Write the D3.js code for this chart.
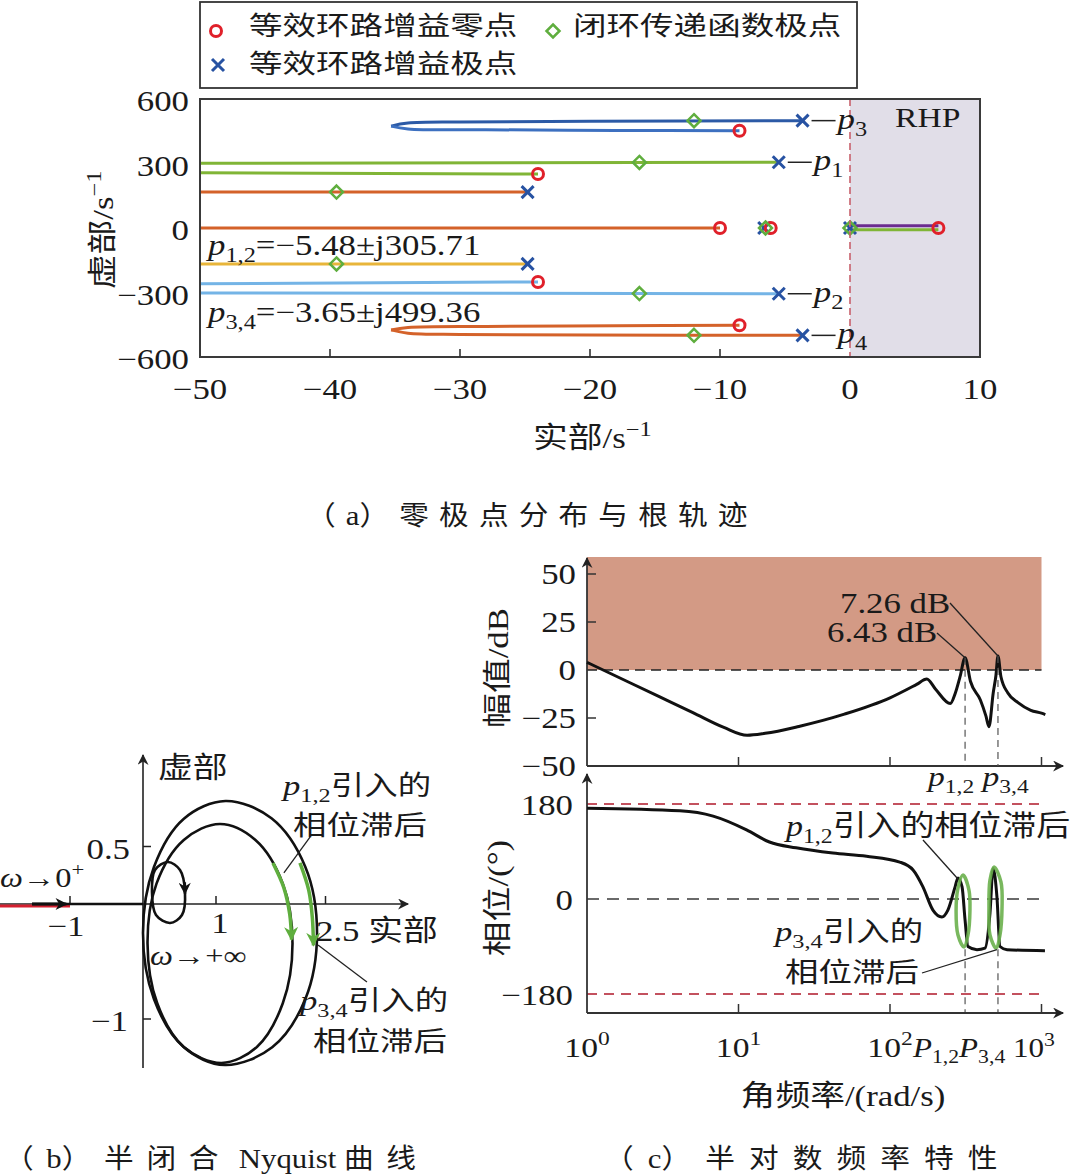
<!DOCTYPE html>
<html><head><meta charset="utf-8">
<script src="https://cdn.jsdelivr.net/npm/d3@7"></script>
<style>body{margin:0;background:#fff}</style>
</head><body>
<svg id="c" width="1070" height="1176"></svg>
<script>
// ================= DATA =================
// (a) root locus
const legendLabels = ['等效环路增益零点', '等效环路增益极点', '闭环传递函数极点'];
const reTicks = [-50, -40, -30, -20, -10, 0, 10];
const imTicks = [-600, -300, 0, 300, 600];
const locusP3 = [[-3.65,499.36],[-20,496],[-30,493],[-34,488],[-35.3,474]];
const locusZ3 = [[-35.3,474],[-34,461],[-28,457],[-18,454],[-8.5,452]];
const locusP1 = [[-5.48,305.71],[-52,301]];
const locusZ1 = [[-24,251],[-52,257]];
const locusA1 = [[-24.8,167],[-52,167]];
const locusReal = [[-10,0],[-52,0]];
const locusRhpA = [[0,10],[6.8,10]];
const locusRhpB = [[0,-8],[6.8,-8]];
const locusA2 = [[-24.8,-167],[-52,-167]];
const locusZ2 = [[-24,-251],[-52,-260]];
const locusP2 = [[-5.48,-305.71],[-52,-302]];
const locusZ4 = [[-8.5,-452],[-18,-455],[-28,-458],[-34,-463],[-35.3,-474]];
const locusP4 = [[-35.3,-474],[-34,-489],[-30,-495],[-20,-498],[-3.65,-499.36]];
const zerosA = [[-8.5,452],[-24,251],[-10,0],[-6.1,0],[6.8,0],[-24,-251],[-8.5,-452]];
const olPolesA = [[-3.65,499.36],[-5.48,305.71],[-24.8,167],[-6.6,0],[0,0],[-24.8,-167],[-5.48,-305.71],[-3.65,-499.36]];
const clPolesA = [[-12,499],[-16.2,305],[-39.5,167],[-6.5,0],[0,0],[-39.5,-167],[-16.2,-305],[-12,-499]];
const poleTags = [['3',-3.65,499.36],['1',-5.48,305.71],['2',-5.48,-305.71],['4',-3.65,-499.36]];
const poleText12 = '=−5.48±j305.71';
const poleText34 = '=−3.65±j499.36';

// (b) Nyquist (re / im)
const nyqReTicks = [-1, 1, 2.5];
const nyqImTicks = [0.5, -1];
const nyqOuter = [[2.384,-0.252],[2.224,0.322],[1.760,0.745],[1.130,0.896],[0.560,0.742],[0.150,0.322],[0,-0.252],[0.150,-0.826],[0.560,-1.246],[1.120,-1.400],[1.770,-1.246],[2.224,-0.826]];
const nyqInner = [[2.048,-0.343],[1.915,0.177],[1.540,0.557],[1.055,0.696],[0.559,0.557],[0.185,0.177],[0.062,-0.343],[0.195,-0.863],[0.559,-1.243],[1.075,-1.382],[1.560,-1.243],[1.915,-0.863]];
const nyqSmall = [[0.575,0.104],[0.507,0.296],[0.342,0.365],[0.164,0.296],[0.123,0.104],[0.178,-0.096],[0.370,-0.165],[0.534,-0.096]];
const nyqLowFreq = [[-1.52,0],[0,0]];
const nyqCritical = [[-1.96,0],[-1,0]];
const nyqGreen12 = [[1.78,0.357],[1.93,0.14],[2.01,-0.09],[2.035,-0.31]];
const nyqGreen34 = [[2.15,0.357],[2.27,0.12],[2.32,-0.12],[2.335,-0.36]];

// (c) Bode
const decades = [0, 1, 2, 3];
const magTicks = [-50, -25, 0, 25, 50];
const phTicks = [-180, 0, 180];
const magW  = [1, 2, 3, 5, 8, 11.4, 15, 25, 50, 100, 150, 175, 200, 250, 270, 290, 313, 340, 395, 430, 450, 480, 500, 516, 540, 600, 700, 850, 1000, 1060];
const magDB = [4, -7.3, -13.9, -22.2, -29.9, -34, -33, -29.4, -23, -14.5, -7.5, -4.7, -10, -17.5, -12, -3.5, 6.43, -6, -15.6, -24, -29.5, -12, -3, 7.26, -3.5, -12, -17, -21, -22.5, -23.2];
const phW   = [1, 4.1, 6.8, 11.3, 16, 24, 42, 70, 116, 142, 165, 192, 220, 241, 269, 281, 299, 313, 327, 375, 424, 457, 479, 508, 532, 592, 1054];
const phDeg = [172, 167, 157, 131, 108, 97, 87, 81, 70, 55, 23, -21, -34, -21, 23, 40, 23, -40, -90, -96, -93, -27, 58, 4, -90, -96, -98];
const loop12 = [[303,45.5],[332,17],[337,-22.7],[327,-68.2],[308,-91],[281,-68.2],[273,-22.7],[281,20.8]];
const loop34 = [[486,60.6],[540,32.2],[549,-15.2],[532,-68.2],[501,-92.8],[457,-68.2],[450,-15.2],[457,36]];
const peakW = [313, 516];
const peakDB = [6.43, 7.26];
const peakLabels = ['6.43 dB', '7.26 dB'];

// ================= HELPERS =================
const SERIF = "'Liberation Serif','Times New Roman',serif";
const CJK = "'Noto Sans CJK SC','Noto Sans CJK JP',sans-serif";
const SX = 1.2;
const svg = d3.select('#c');
svg.append('rect').attr('width', 1070).attr('height', 1176).attr('fill', '#fff');
const defs = svg.append('defs');

// segs: [text, kind] ; kind 'r' roman, 'i' italic, 'c' CJK, 'sub', 'sup', 'br' (new line: [_, 'br', dxPx, dyPx])
function txt(g, x, y, segs, o = {}) {
  const sx = o.sx ?? SX;
  let tr = `translate(${x},${y})`;
  if (o.rot) tr += ` rotate(${o.rot})`;
  tr += ` scale(${sx},1)`;
  const t = g.append('text').attr('transform', tr)
    .attr('text-anchor', o.anchor || 'start').attr('fill', o.fill || '#1a1a1a');
  const S = o.s || 28, C = o.c || 28;
  let cur = 0, brPending = null;
  segs.forEach(seg => {
    const [s, k] = seg;
    if (k === 'br') { brPending = [seg[2], seg[3]]; return; }
    const ts = t.append('tspan').text(s);
    let fam = SERIF, fs = S, it = false, sh = 0;
    if (k === 'c') { fam = CJK; fs = C; if (o.ls) ts.attr('letter-spacing', o.ls); }
    if (k === 'i') it = true;
    if (k === 'sub') { fs = S * 0.7; sh = S * 0.24; }
    if (k === 'sup') { fs = S * 0.7; sh = -S * 0.42; }
    ts.attr('font-family', fam).attr('font-size', fs);
    if (it) ts.attr('font-style', 'italic');
    let dy = sh - cur;
    if (brPending) { ts.attr('x', brPending[0] / sx); dy += brPending[1]; brPending = null; }
    if (dy) ts.attr('dy', dy);
    cur = sh;
  });
  return t;
}
function marker(id, color, w, h) {
  defs.append('marker').attr('id', id).attr('viewBox', '0 0 10 10')
    .attr('refX', 9).attr('refY', 5).attr('markerWidth', w).attr('markerHeight', h)
    .attr('markerUnits', 'userSpaceOnUse').attr('orient', 'auto')
    .append('path').attr('d', 'M0,0L10,5L0,10L3,5Z').attr('fill', color);
}
marker('arrK', '#222', 16, 11);
marker('arrKs', '#111', 14, 12);
marker('arrG', '#5fae3e', 14, 14);

const RED = '#e0202a', BLUE = '#2752a2', GRN = '#5fae3e';
function drawCircle(g, x, y) { g.append('circle').attr('cx', x).attr('cy', y).attr('r', 5.5).attr('fill', 'none').attr('stroke', RED).attr('stroke-width', 3); }
function drawX(g, x, y) { g.append('path').attr('d', `M${x-6},${y-6}L${x+6},${y+6}M${x-6},${y+6}L${x+6},${y-6}`).attr('stroke', BLUE).attr('stroke-width', 3); }
function drawDia(g, x, y) { g.append('path').attr('d', `M${x},${y-6.5}L${x+6.5},${y}L${x},${y+6.5}L${x-6.5},${y}Z`).attr('fill', 'none').attr('stroke', GRN).attr('stroke-width', 2.5); }

// ================= (a) =================
const gA = svg.append('g');
const xA = d3.scaleLinear().domain([-50, 10]).range([200, 980]);
const yA = d3.scaleLinear().domain([-600, 600]).range([357, 99]);
defs.append('clipPath').attr('id', 'clipA').append('rect')
  .attr('x', xA(-50)).attr('y', yA(600)).attr('width', xA(10) - xA(-50)).attr('height', yA(-600) - yA(600));

// legend
const lg = gA.append('g');
lg.append('rect').attr('x', 200).attr('y', 2).attr('width', 657).attr('height', 86)
  .attr('fill', '#fff').attr('stroke', '#333').attr('stroke-width', 1.8);
drawCircle(lg, 216, 31); drawX(lg, 218, 65); drawDia(lg, 553, 31);
txt(lg, 249, 35, [[legendLabels[0], 'c'], ['', 'br', 0, 38], [legendLabels[1], 'c']], { c: 26, sx: 1.29 });
txt(lg, 573, 35, [[legendLabels[2], 'c']], { c: 26, sx: 1.29 });

// RHP
gA.append('rect').attr('x', xA(0)).attr('y', yA(600)).attr('width', xA(10) - xA(0))
  .attr('height', yA(-600) - yA(600)).attr('fill', '#e1dee8');
txt(gA, 895, 127, [['RHP', 'r']]);

const pl = gA.append('g').attr('clip-path', 'url(#clipA)');
const lineA = d3.line().x(d => xA(d[0])).y(d => yA(d[1])).curve(d3.curveCatmullRom.alpha(0.5));
[[locusP3, '#2c5aa6'], [locusZ3, '#3d70c0'], [locusP1, '#80b536'], [locusZ1, '#80b536'],
 [locusA1, '#d4622a'], [locusReal, '#d4622a'], [locusRhpA, '#6b2c8f'], [locusRhpB, '#80b536'],
 [locusA2, '#e8b53a'], [locusZ2, '#74b4e6'], [locusP2, '#74b4e6'],
 [locusZ4, '#d4622a'], [locusP4, '#d4622a']].forEach(([d, c]) => {
  pl.append('path').attr('d', lineA(d)).attr('fill', 'none').attr('stroke', c).attr('stroke-width', 3);
});
gA.append('line').attr('x1', xA(0)).attr('x2', xA(0)).attr('y1', yA(600)).attr('y2', yA(-600))
  .attr('stroke', '#c8606c').attr('stroke-width', 1.6).attr('stroke-dasharray', '7,4');
olPolesA.forEach(d => drawX(pl, xA(d[0]), yA(d[1])));
zerosA.forEach(d => drawCircle(pl, xA(d[0]), yA(d[1])));
clPolesA.forEach(d => drawDia(pl, xA(d[0]), yA(d[1])));

gA.append('rect').attr('x', xA(-50)).attr('y', yA(600)).attr('width', xA(10) - xA(-50))
  .attr('height', yA(-600) - yA(600)).attr('fill', 'none').attr('stroke', '#3a3a3a').attr('stroke-width', 2);
reTicks.slice(1, -2).forEach(v => gA.append('line').attr('x1', xA(v)).attr('x2', xA(v))
  .attr('y1', yA(-600)).attr('y2', yA(-600) - 8).attr('stroke', '#333').attr('stroke-width', 1.6));
reTicks.forEach(v => txt(gA, xA(v), 399, [[v < 0 ? '−' + (-v) : String(v), 'r']], { anchor: 'middle', s: 29 }));
imTicks.forEach(v => txt(gA, 189, yA(v) + 12, [[v < 0 ? '−' + (-v) : String(v), 'r']], { anchor: 'end', s: 29 }));
txt(gA, 533, 448, [['实部', 'c'], ['/s', 'r'], ['−1', 'sup']], { c: 29, s: 29 });
txt(gA, 113, 230, [['虚部', 'c'], ['/s', 'r'], ['−1', 'sup']], { rot: -90, anchor: 'middle', c: 29, s: 29 });

poleTags.forEach(([n, re, im]) => {
  const x = xA(re), y = yA(im);
  gA.append('line').attr('x1', x + 9).attr('x2', x + 33).attr('y1', y).attr('y2', y)
    .attr('stroke', '#222').attr('stroke-width', 1.5);
  txt(gA, x + 35, y + 8, [['p', 'i'], [n, 'sub']], { s: 29 });
});
txt(gA, 208, 255, [['p', 'i'], ['1,2', 'sub'], [poleText12, 'r'], ['', 'br', 0, 67], ['p', 'i'], ['3,4', 'sub'], [poleText34, 'r']], { s: 29 });
txt(gA, 306, 525, [['（', 'c'], ['a', 'r'], ['）零极点分布与根轨迹', 'c']], { sx: 1.1, c: 27, s: 28, ls: 9.2 });

// ================= (b) Nyquist =================
const gB = svg.append('g');
const xN = d3.scaleLinear().domain([-1, 2.5]).range([70, 325.5]);
const yN = d3.scaleLinear().domain([-1, 0.5]).range([1019, 846.5]);
const lineN = d3.line().x(d => xN(d[0])).y(d => yN(d[1]));
gB.append('line').attr('x1', 0).attr('x2', 408).attr('y1', yN(0)).attr('y2', yN(0))
  .attr('stroke', '#222').attr('stroke-width', 1.6).attr('marker-end', 'url(#arrK)');
gB.append('line').attr('x1', xN(0)).attr('x2', xN(0)).attr('y1', 1068).attr('y2', 755)
  .attr('stroke', '#222').attr('stroke-width', 1.6).attr('marker-end', 'url(#arrK)');
nyqReTicks.forEach(v => gB.append('line').attr('x1', xN(v)).attr('x2', xN(v)).attr('y1', yN(0)).attr('y2', yN(0) - 8).attr('stroke', '#222').attr('stroke-width', 1.5));
nyqImTicks.forEach(v => gB.append('line').attr('x1', xN(0)).attr('x2', xN(0) + 8).attr('y1', yN(v)).attr('y2', yN(v)).attr('stroke', '#222').attr('stroke-width', 1.5));
gB.append('path').attr('d', lineN(nyqCritical)).attr('transform', 'translate(0,2)').attr('stroke', '#d42030').attr('stroke-width', 3).attr('fill', 'none');
gB.append('path').attr('d', lineN(nyqLowFreq)).attr('stroke', '#111').attr('stroke-width', 2.5).attr('fill', 'none');
gB.append('path').attr('d', lineN([nyqLowFreq[0], [-1.05, 0]])).attr('stroke', '#111').attr('stroke-width', 3).attr('fill', 'none').attr('marker-end', 'url(#arrKs)');
const closedN = d3.line().x(d => xN(d[0])).y(d => yN(d[1])).curve(d3.curveCatmullRomClosed.alpha(0.5));
[nyqOuter, nyqInner, nyqSmall].forEach(d => gB.append('path').attr('d', closedN(d)).attr('fill', 'none').attr('stroke', '#111').attr('stroke-width', 2.6));
gB.append('path').attr('d', lineN([[0.572, 0.19], [0.575, 0.09]])).attr('stroke', '#111').attr('stroke-width', 2.6).attr('fill', 'none').attr('marker-end', 'url(#arrKs)');
const smoothN = d3.line().x(d => xN(d[0])).y(d => yN(d[1])).curve(d3.curveCatmullRom.alpha(0.5));
[nyqGreen12, nyqGreen34].forEach(d => gB.append('path').attr('d', smoothN(d)).attr('fill', 'none')
  .attr('stroke', GRN).attr('stroke-width', 3.5).attr('marker-end', 'url(#arrG)'));
gB.append('path').attr('d', lineN([[1.93, 0.27], [2.29, 0.583]])).attr('stroke', '#222').attr('stroke-width', 1.3);
gB.append('path').attr('d', lineN([[2.397, -0.357], [3.068, -0.678]])).attr('stroke', '#222').attr('stroke-width', 1.3);
txt(gB, 158, 778, [['虚部', 'c']], { c: 29 });
txt(gB, 130, 859, [['0.5', 'r']], { anchor: 'end', s: 29 });
txt(gB, 128, 1031, [['−1', 'r']], { anchor: 'end', s: 29 });
txt(gB, 66, 936, [['−1', 'r']], { anchor: 'middle', s: 29 });
txt(gB, 220, 933, [['1', 'r']], { anchor: 'middle', s: 29 });
txt(gB, 316, 941, [['2.5 ', 'r'], ['实部', 'c']], { s: 29, c: 29 });
txt(gB, 0, 887, [['ω', 'i'], ['→0', 'r'], ['+', 'sup']], { s: 27 });
txt(gB, 150, 965, [['ω', 'i'], ['→+∞', 'r']], { s: 27 });
txt(gB, 283, 795, [['p', 'i'], ['1,2', 'sub'], ['引入的', 'c'], ['', 'br', 10, 40], ['相位滞后', 'c']], { s: 28, c: 27, sx: 1.24 });
txt(gB, 300, 1010, [['p', 'i'], ['3,4', 'sub'], ['引入的', 'c'], ['', 'br', 13, 41], ['相位滞后', 'c']], { s: 28, c: 27, sx: 1.24 });
txt(gB, 4, 1168, [['（', 'c'], ['b', 'r'], ['）半闭合', 'c'], [' Nyquist ', 'r'], ['曲线', 'c']], { sx: 1.1, c: 27, s: 28, ls: 11.5 });

// ================= (c) Bode =================
const gC = svg.append('g');
const xB = d3.scaleLog().domain([1, 1000]).range([587, 1041.5]);
const yM = d3.scaleLinear().domain([-50, 50]).range([766, 574]);
const yP = d3.scaleLinear().domain([-180, 180]).range([994, 804]);
gC.append('rect').attr('x', xB(1)).attr('y', 557).attr('width', xB(1000) - xB(1)).attr('height', yM(0) - 557).attr('fill', '#d39a85');
gC.append('line').attr('x1', xB(1)).attr('x2', xB(1000)).attr('y1', yM(0)).attr('y2', yM(0))
  .attr('stroke', '#222').attr('stroke-width', 1.6).attr('stroke-dasharray', '10,6');
// magnitude axes
gC.append('line').attr('x1', 587).attr('x2', 587).attr('y1', yM(-50)).attr('y2', 558).attr('stroke', '#333').attr('stroke-width', 1.8).attr('marker-end', 'url(#arrK)');
gC.append('line').attr('x1', 587).attr('x2', 1063).attr('y1', yM(-50)).attr('y2', yM(-50)).attr('stroke', '#333').attr('stroke-width', 1.8).attr('marker-end', 'url(#arrK)');
[50, 25, -25].forEach(v => gC.append('line').attr('x1', 587).attr('x2', 596).attr('y1', yM(v)).attr('y2', yM(v)).attr('stroke', '#333').attr('stroke-width', 1.5));
decades.slice(1).forEach(k => gC.append('line').attr('x1', xB(10 ** k)).attr('x2', xB(10 ** k)).attr('y1', yM(-50)).attr('y2', yM(-50) - 9).attr('stroke', '#333').attr('stroke-width', 1.5));
magTicks.forEach(v => txt(gC, 576, yM(v) + 10, [[v < 0 ? '−' + (-v) : String(v), 'r']], { anchor: 'end', s: 29 }));
// magnitude curve
const magPts = magW.map((w, i) => [w, magDB[i]]);
gC.append('path').attr('d', d3.line().x(d => xB(d[0])).y(d => yM(d[1])).curve(d3.curveMonotoneX)(magPts))
  .attr('fill', 'none').attr('stroke', '#111').attr('stroke-width', 3);
peakW.forEach((w, i) => {
  gC.append('line').attr('x1', xB(w)).attr('x2', xB(w)).attr('y1', yM(peakDB[i])).attr('y2', yM(-50))
    .attr('stroke', '#555').attr('stroke-width', 1.2).attr('stroke-dasharray', '7,5');
  gC.append('line').attr('x1', xB(w)).attr('x2', xB(w)).attr('y1', yP(-95)).attr('y2', 1013)
    .attr('stroke', '#555').attr('stroke-width', 1.2).attr('stroke-dasharray', '7,5');
});
gC.append('line').attr('x1', 937).attr('y1', 633).attr('x2', xB(peakW[0])).attr('y2', yM(peakDB[0])).attr('stroke', '#222').attr('stroke-width', 1.3);
gC.append('line').attr('x1', 950).attr('y1', 603).attr('x2', xB(peakW[1])).attr('y2', yM(peakDB[1])).attr('stroke', '#222').attr('stroke-width', 1.3);
txt(gC, 840, 613, [[peakLabels[1], 'r'], ['', 'br', -13, 29], [peakLabels[0], 'r']], { s: 29 });
txt(gC, 928, 786, [['p', 'i'], ['1,2', 'sub'], ['  ', 'r'], ['p', 'i'], ['3,4', 'sub']], { s: 28 });
txt(gC, 508, 668, [['幅值', 'c'], ['/dB', 'r']], { rot: -90, anchor: 'middle', c: 29, s: 29 });

// phase
[180, -180].forEach(v => gC.append('line').attr('x1', 587).attr('x2', xB(1000)).attr('y1', yP(v)).attr('y2', yP(v))
  .attr('stroke', '#b0182a').attr('stroke-width', 1.5).attr('stroke-dasharray', '10,7'));
gC.append('line').attr('x1', 587).attr('x2', xB(1000)).attr('y1', yP(0)).attr('y2', yP(0))
  .attr('stroke', '#6a6a6a').attr('stroke-width', 2).attr('stroke-dasharray', '12,8');
gC.append('line').attr('x1', 587).attr('x2', 587).attr('y1', 1013).attr('y2', 774).attr('stroke', '#333').attr('stroke-width', 1.8).attr('marker-end', 'url(#arrK)');
gC.append('line').attr('x1', 587).attr('x2', 1063).attr('y1', 1013).attr('y2', 1013).attr('stroke', '#333').attr('stroke-width', 1.8).attr('marker-end', 'url(#arrK)');
decades.slice(1).forEach(k => gC.append('line').attr('x1', xB(10 ** k)).attr('x2', xB(10 ** k)).attr('y1', 1013).attr('y2', 1004).attr('stroke', '#333').attr('stroke-width', 1.5));
phTicks.forEach(v => txt(gC, 573, yP(v) + 11, [[v < 0 ? '−' + (-v) : String(v), 'r']], { anchor: 'end', s: 29 }));
const phPts = phW.map((w, i) => [w, phDeg[i]]);
gC.append('path').attr('d', d3.line().x(d => xB(d[0])).y(d => yP(d[1])).curve(d3.curveMonotoneX)(phPts))
  .attr('fill', 'none').attr('stroke', '#111').attr('stroke-width', 3);
const closedP = d3.line().x(d => xB(d[0])).y(d => yP(d[1])).curve(d3.curveCatmullRomClosed.alpha(0.5));
[loop12, loop34].forEach(d => gC.append('path').attr('d', closedP(d)).attr('fill', 'none')
  .attr('stroke', '#6ab04c').attr('stroke-width', 3.5).attr('stroke-opacity', 0.9));
gC.append('line').attr('x1', 923).attr('y1', 840).attr('x2', xB(281)).attr('y2', yP(38)).attr('stroke', '#222').attr('stroke-width', 1.3);
gC.append('line').attr('x1', 922).attr('y1', 973).attr('x2', xB(508)).attr('y2', yP(-96)).attr('stroke', '#222').attr('stroke-width', 1.3);
txt(gC, 786, 836, [['p', 'i'], ['1,2', 'sub'], ['引入的相位滞后', 'c']], { s: 29, c: 29, sx: 1.17 });
txt(gC, 775, 941, [['p', 'i'], ['3,4', 'sub'], ['引入的', 'c'], ['', 'br', 10, 41], ['相位滞后', 'c']], { s: 28, c: 27, sx: 1.24 });
decades.slice(0, 3).forEach(k => txt(gC, xB(10 ** k), 1057, [['10', 'r'], [String(k), 'sup']], { anchor: 'middle', s: 28 }));
txt(gC, 913, 1057, [['P', 'i'], ['1,2', 'sub'], ['P', 'i'], ['3,4', 'sub'], [' 10', 'r'], ['3', 'sup']], { s: 27, sx: 1.15 });
txt(gC, 508, 898, [['相位', 'c'], ['/(°)', 'r']], { rot: -90, anchor: 'middle', c: 29, s: 29 });
txt(gC, 843, 1106, [['角频率', 'c'], ['/(rad/s)', 'r']], { anchor: 'middle', c: 29, s: 29 });
txt(gC, 604, 1168, [['（', 'c'], ['c', 'r'], ['）半对数频率特性', 'c']], { sx: 1.1, c: 27, s: 28, ls: 12.8 });
</script>
</body></html>
